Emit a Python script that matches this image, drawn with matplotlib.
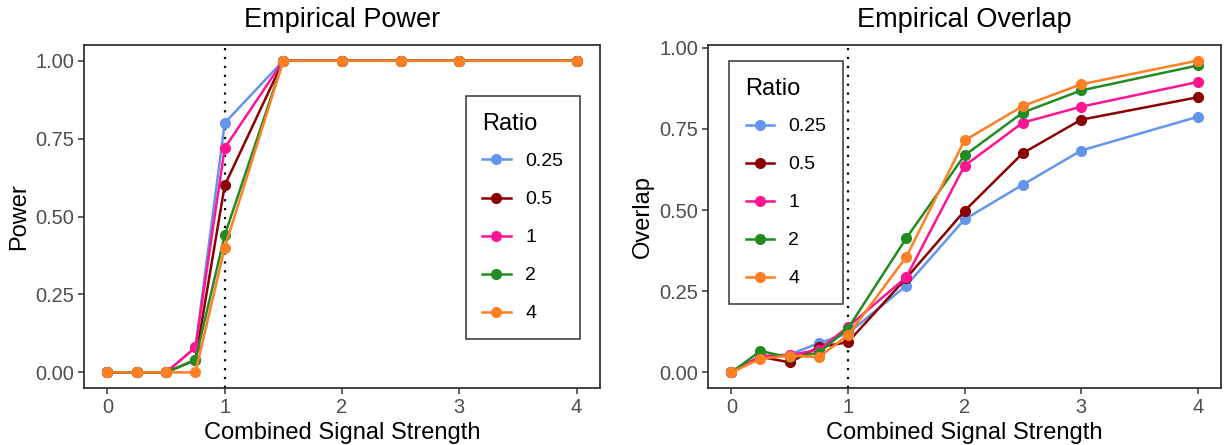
import numpy as np
import matplotlib.pyplot as plt

plt.rcParams['font.family'] = ['Liberation Sans', 'DejaVu Sans']

strength = [0, 0.25, 0.5, 0.75, 1, 1.5, 2, 2.5, 3, 4]
ratios = ['0.25', '0.5', '1', '2', '4']
colors = ['#6495ED', '#8B0000', '#FF1493', '#228B22', '#FF7F24']

# empirical power, one list per ratio
power_025 = [0, 0, 0, 0.08, 0.80, 1, 1, 1, 1, 1]
power_05 = [0, 0, 0, 0.04, 0.60, 1, 1, 1, 1, 1]
power_1 = [0, 0, 0, 0.08, 0.72, 1, 1, 1, 1, 1]
power_2 = [0, 0, 0, 0.04, 0.44, 1, 1, 1, 1, 1]
power_4 = [0, 0, 0, 0, 0.40, 1, 1, 1, 1, 1]

# empirical overlap
overlap_025 = [0, 0.050, 0.055, 0.090, 0.120, 0.267, 0.471, 0.578, 0.683, 0.787]
overlap_05 = [0, 0.048, 0.031, 0.078, 0.093, 0.290, 0.497, 0.675, 0.778, 0.847]
overlap_1 = [0, 0.050, 0.053, 0.070, 0.140, 0.293, 0.636, 0.769, 0.818, 0.894]
overlap_2 = [0, 0.066, 0.046, 0.060, 0.135, 0.413, 0.668, 0.800, 0.868, 0.945]
overlap_4 = [0, 0.042, 0.052, 0.047, 0.114, 0.355, 0.714, 0.820, 0.887, 0.960]

power = [power_025, power_05, power_1, power_2, power_4]
overlap = [overlap_025, overlap_05, overlap_1, overlap_2, overlap_4]

fig = plt.figure(figsize=(12.25, 4.45), dpi=100)
W, H = 1225, 445
ax1 = fig.add_axes([84 / W, (H - 388) / H, (600 - 84) / W, (388 - 45) / H])
ax2 = fig.add_axes([708 / W, (H - 388) / H, (1221 - 708) / W, (388 - 45) / H])


def draw(ax, data, title, ylabel, legend_anchor):
    ax.axvline(1, color='black', linestyle=(0, (1, 3)), linewidth=1.6, zorder=1)
    for vals, lab, c in zip(data, ratios, colors):
        ax.plot(strength, vals, color=c, linewidth=1.8, marker='o', markersize=7,
                label=lab, zorder=3)
    ymax = max(max(v) for v in data)
    pad = ymax * 0.05
    ax.set_ylim(-pad, ymax + pad)
    ax.set_xlim(-0.2, 4.2)
    ax.set_xticks([0, 1, 2, 3, 4])
    ax.set_yticks([0, 0.25, 0.5, 0.75, 1.0])
    ax.set_yticklabels(['0.00', '0.25', '0.50', '0.75', '1.00'])
    ax.tick_params(labelsize=14.4, labelcolor='#4D4D4D', color='#333333',
                   length=4, width=1.1, pad=3)
    for s in ax.spines.values():
        s.set_color('#333333')
        s.set_linewidth(1.3)
    ax.set_title(title, fontsize=19.5, pad=13)
    ax.set_xlabel('Combined Signal Strength', fontsize=17, labelpad=4)
    ax.set_ylabel(ylabel, fontsize=17, labelpad=4)
    leg = ax.legend(title='Ratio', loc='upper left', bbox_to_anchor=legend_anchor,
                    fontsize=14, title_fontsize=17, frameon=True, fancybox=False,
                    edgecolor='black', borderpad=0.85, labelspacing=1.05,
                    handlelength=1.45, handletextpad=0.75, borderaxespad=0)
    leg.get_frame().set_linewidth(1.1)
    leg._legend_box.align = 'left'
    leg._legend_box.sep = 13


draw(ax1, power, 'Empirical Power', 'Power', (0.740, 0.851))
draw(ax2, overlap, 'Empirical Overlap', 'Overlap', (0.041, 0.953))

fig.savefig('out.png', dpi=100)
